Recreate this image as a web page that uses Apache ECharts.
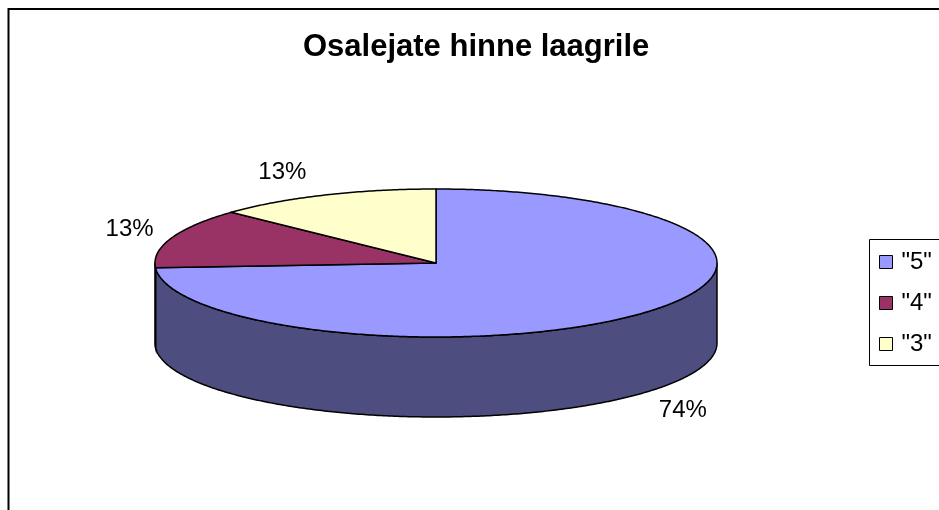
<!DOCTYPE html>
<html>
<head>
<meta charset="utf-8">
<script src="https://cdn.jsdelivr.net/npm/echarts@6/dist/echarts.min.js"></script>
<style>
html,body{margin:0;padding:0;background:#fff;}
#chart{width:939px;height:510px;}
</style>
</head>
<body>
<div id="chart"></div>
<script>
// ---- data ----
const categories = ['"5"', '"4"', '"3"'];
const values = [74, 13, 13];
const titleText = 'Osalejate hinne laagrile';
// ---- styles ----
const topColors = ['#9999FF', '#993366', '#FFFFCC'];
const sideColors = ['#4D4D80', '#4D1A33', '#808066'];

const FONT = '"Liberation Sans", Arial, sans-serif';
const CX = 436, CY = 263, RX = 281, RY = 74, DEPTH = 80;
const total = values.reduce((a, b) => a + b, 0);

function pt(theta, dy) {
  return [CX + RX * Math.sin(theta), CY - RY * Math.cos(theta) + (dy || 0)];
}
function arc(a, b, dy) {
  const pts = [];
  const n = Math.max(2, Math.ceil(Math.abs(b - a) / 0.01));
  for (let k = 0; k <= n; k++) pts.push(pt(a + (b - a) * k / n, dy));
  return pts;
}

function makeRender(i) {
  return function (params, api) {
    const v = api.value(0);
    let before = 0;
    for (let j = 0; j < i; j++) before += values[j];
    const a0 = before / total * Math.PI * 2;
    const a1 = (before + v) / total * Math.PI * 2;
    const children = [];
    // side (front-facing part: between 90deg and 270deg clockwise from top)
    const s0 = Math.max(a0, Math.PI / 2), s1 = Math.min(a1, Math.PI * 1.5);
    if (s1 > s0) {
      const pts = arc(s0, s1, 0).concat(arc(s1, s0, DEPTH));
      children.push({
        type: 'polygon', z2: 1,
        shape: { points: pts },
        style: { fill: sideColors[i], stroke: '#000', lineWidth: 1.5 }
      });
    }
    // top face
    children.push({
      type: 'polygon', z2: 10,
      shape: { points: [[CX, CY]].concat(arc(a0, a1, 0)) },
      style: { fill: topColors[i], stroke: '#000', lineWidth: 1.5, lineJoin: 'round' }
    });
    // label
    const mid = (a0 + a1) / 2;
    const sn = Math.sin(mid), cs = Math.cos(mid);
    const p = pt(mid, cs < 0 ? DEPTH : 0);
    const pct = Math.round(v / total * 100) + '%';
    children.push({
      type: 'text', z2: 20,
      x: p[0] + (sn < 0 ? -18 : 18),
      y: p[1] - 25 * cs,
      style: {
        text: pct, fill: '#000', font: '24px ' + FONT,
        align: sn < 0 ? 'right' : 'left', verticalAlign: 'middle'
      }
    });
    return { type: 'group', children: children };
  };
}

const series = categories.map((name, i) => ({
  type: 'custom',
  name: name,
  coordinateSystem: 'none',
  itemStyle: { color: topColors[i] },
  data: [[values[i]]],
  renderItem: makeRender(i),
  silent: true,
  animation: false
}));

const chart = echarts.init(document.getElementById('chart'), null, { renderer: 'canvas' });
chart.setOption({
  backgroundColor: '#fff',
  animation: false,
  title: {
    text: titleText,
    left: 303, top: 32,
    padding: 0,
    textStyle: { fontFamily: FONT, fontWeight: 'bold', fontSize: 31, color: '#000' }
  },
  legend: {
    data: categories,
    orient: 'vertical',
    left: 879, top: 250,
    padding: 0,
    itemWidth: 13, itemHeight: 13,
    itemGap: 17,
    icon: 'rect',
    itemStyle: { borderColor: '#000', borderWidth: 1 },
    textStyle: { fontFamily: FONT, fontSize: 24, color: '#000', padding: [0, 0, 0, 4] }
  },
  graphic: [
    { type: 'rect', z: -1, shape: { x: 8.5, y: 9, width: 1000, height: 1000 },
      style: { fill: 'none', stroke: '#000', lineWidth: 2 } },
    { type: 'rect', z: -1, shape: { x: 869.5, y: 239.5, width: 100, height: 126 },
      style: { fill: '#fff', stroke: '#000', lineWidth: 1 } }
  ],
  series: series
});
</script>
</body>
</html>
